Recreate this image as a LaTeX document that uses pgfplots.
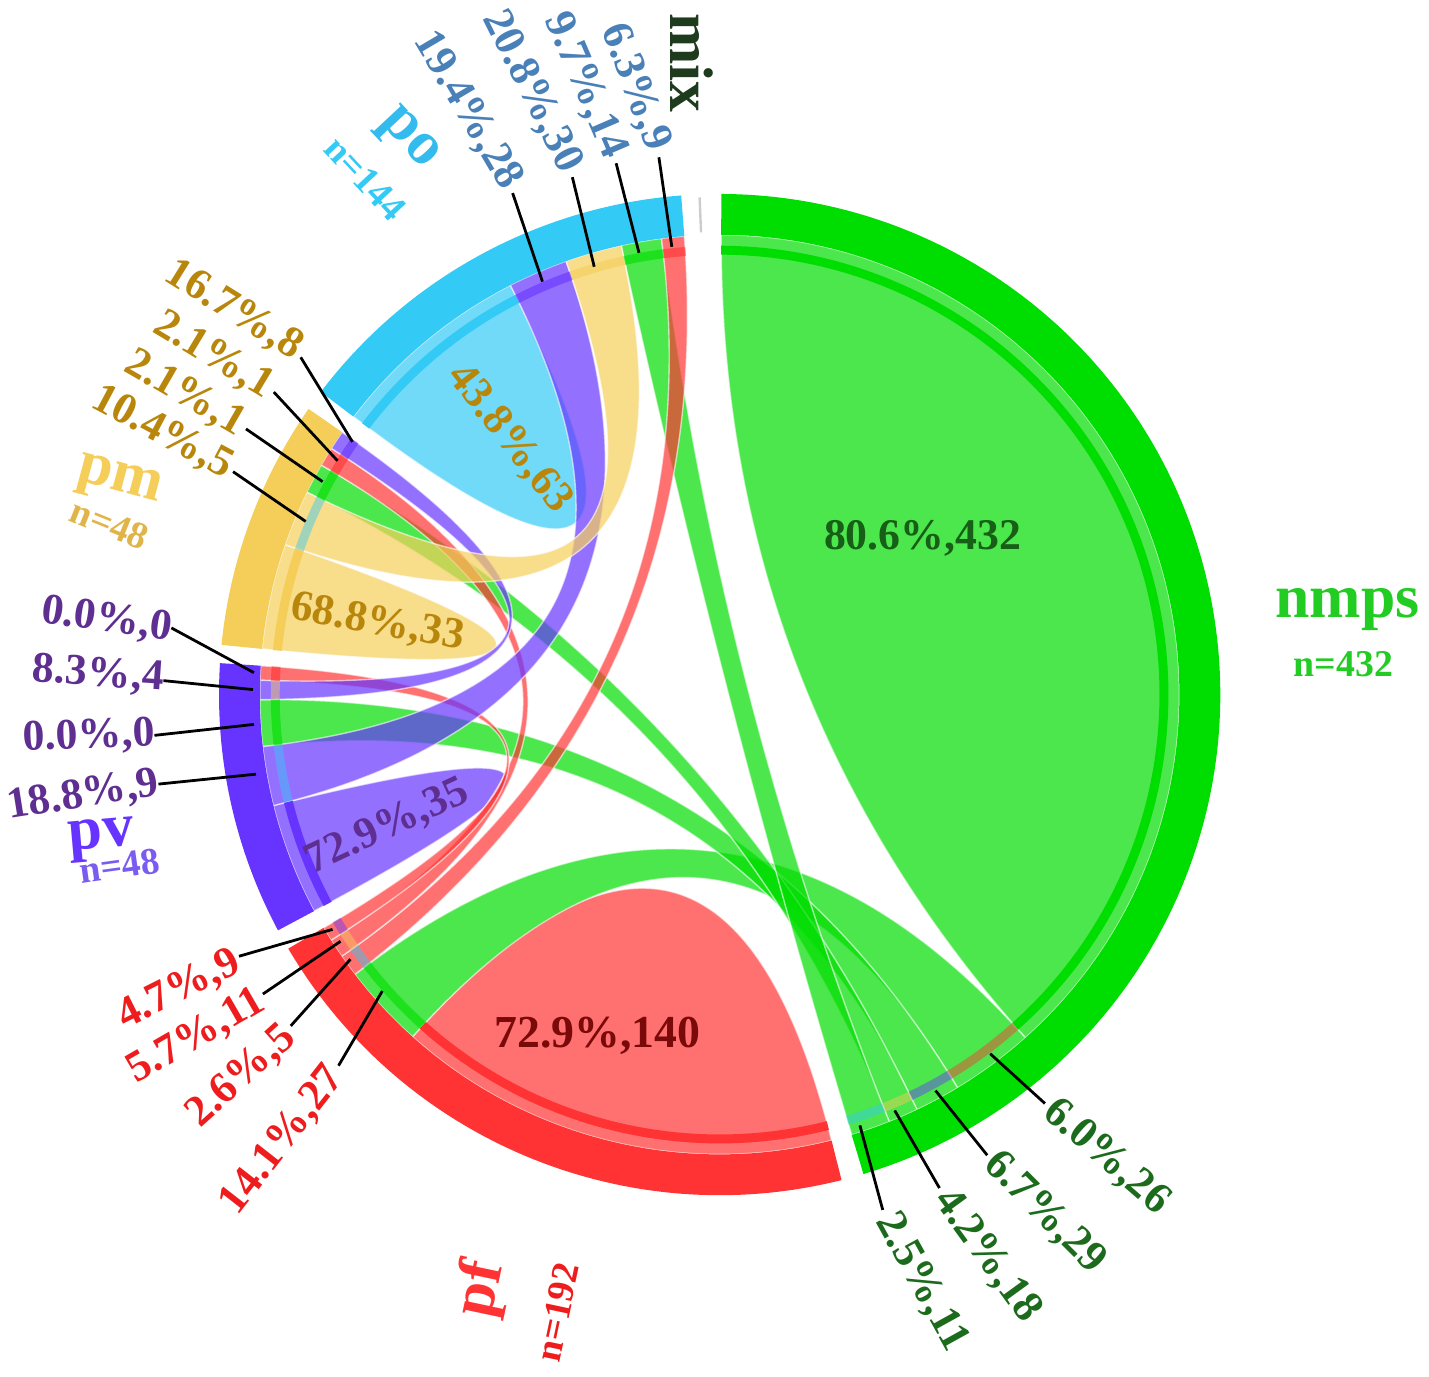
\documentclass[border=0pt]{standalone}
\usepackage{pgfplots}
\pgfplotsset{compat=1.18}
\usepackage{fontspec}
\setmainfont{Liberation Serif}
\newcommand\pxu{0.0087866}
\pgfmathsetmacro\RL{462*\pxu}
\pgfmathsetmacro\RC{462*\pxu/3}
\pgfmathsetmacro\Rbi{462*\pxu}
\pgfmathsetmacro\Rbo{503*\pxu}
\pgfmathsetmacro\Rxi{442*\pxu}
\pgfmathsetmacro\Rxo{451*\pxu}
\definecolor{cnmps}{HTML}{00DD00}
\definecolor{cpf}{HTML}{FF3333}
\definecolor{cpv}{HTML}{6633FF}
\definecolor{cpm}{HTML}{F5CE5A}
\definecolor{cpo}{HTML}{33CAF5}
\definecolor{lnmps}{HTML}{1C6B1C}
\definecolor{lpf}{HTML}{EE1C1C}
\definecolor{lpv}{HTML}{5E2E91}
\definecolor{lpm}{HTML}{B8860B}
\definecolor{lpo}{HTML}{4A80B8}
\definecolor{innmps}{HTML}{175E17}
\definecolor{inpf}{HTML}{7A0A0A}
\definecolor{nmpsname}{HTML}{22CC22}
\definecolor{pvn}{HTML}{7B5CF0}
\definecolor{pmn}{HTML}{E0B448}
\definecolor{poname}{HTML}{33BBEE}
\definecolor{mixc}{HTML}{1E3B1E}
% ribbon between two ends [a1,a2] and [b1,b2]
\newcommand{\rib}[5]{%
 \fill[#1, fill opacity=0.7, draw=white, draw opacity=0.6, line width=0.35pt]
 (axis cs:{\RL*cos(#2)},{\RL*sin(#2)}) arc[start angle=#2, end angle=#3, radius=\RL]
 .. controls (axis cs:{\RC*cos(#3)},{\RC*sin(#3)}) and (axis cs:{\RC*cos(#4)},{\RC*sin(#4)}) ..
 (axis cs:{\RL*cos(#4)},{\RL*sin(#4)}) arc[start angle=#4, end angle=#5, radius=\RL]
 .. controls (axis cs:{\RC*cos(#5)},{\RC*sin(#5)}) and (axis cs:{\RC*cos(#2)},{\RC*sin(#2)}) .. cycle;}
% self link
\newcommand{\petal}[3]{%
 \fill[#1, fill opacity=0.7, draw=white, draw opacity=0.6, line width=0.35pt]
 (axis cs:{\RL*cos(#2)},{\RL*sin(#2)}) arc[start angle=#2, end angle=#3, radius=\RL]
 .. controls (axis cs:{\RC*cos(#3)},{\RC*sin(#3)}) and (axis cs:{\RC*cos(#2)},{\RC*sin(#2)}) .. cycle;}
% annulus sector
\newcommand{\ann}[5]{%
 \fill[#1] (axis cs:{#2*cos(#4)},{#2*sin(#4)}) arc[start angle=#4, end angle=#5, radius=#2]
 -- (axis cs:{#3*cos(#5)},{#3*sin(#5)}) arc[start angle=#5, end angle=#4, radius=#3] -- cycle;}
% text label at image pixel position
\newcommand{\lab}[7]{%
 \node[rotate=#3, anchor=#4, text=#5, inner sep=1pt, font=\bfseries\fontsize{#6}{#6}\selectfont]
 at (axis cs:{(#1-716)*\pxu},{(697-#2)*\pxu}) {#7};}
\newcommand{\ld}[4]{%
 \draw[black, line width=0.7pt] (axis cs:{(#1-716)*\pxu},{(697-#2)*\pxu}) -- (axis cs:{(#3-716)*\pxu},{(697-#4)*\pxu});}
\begin{document}
\begin{tikzpicture}
\begin{axis}[x=1cm, y=1cm, xmin=-6.2912, xmax=6.2648, ymin=-6.0188, ymax=6.1243,
  hide axis, clip=false]
\addplot[draw=none, mark=none, forget plot] coordinates {(-6.2912,-6.0188) (6.2648,6.1243)};
% self links (diagonal counts: nmps 348, pf 140, pv 35, pm 33, po 63)
\petal{cnmps}{89.8}{-48.3}
\petal{cpf}{-75.9}{-131.9}
\petal{cpv}{-151.9}{-166.03}
\petal{cpm}{-185.7}{-199.04}
\petal{cpo}{-217.2}{-242.93}
% links between classes (widths: sum of both directions)
\rib{cnmps}{-48.3}{-58.82}{-131.9}{-142.5}
\rib{cnmps}{-58.82}{-64.57}{-173.5}{-179.36}
\rib{cnmps}{-64.57}{-68.34}{-206.11}{-209.95}
\rib{cnmps}{-68.34}{-73.3}{-257.64}{-262.74}
\rib{cpf}{-142.5}{-145.3}{-262.74}{-265.6}
\rib{cpf}{-145.3}{-147.7}{-209.95}{-212.38}
\rib{cpf}{-147.7}{-149.5}{-181.78}{-183.6}
\rib{cpv}{-166.03}{-173.5}{-242.93}{-250.49}
\rib{cpv}{-179.36}{-181.78}{-212.38}{-214.8}
\rib{cpm}{-199.04}{-206.11}{-250.49}{-257.64}
% end bars
\ann{cnmps}{\Rxi}{\Rxo}{89.8}{-48.3}
\ann{cpf}{\Rxi}{\Rxo}{-75.9}{-131.9}
\ann{cpv}{\Rxi}{\Rxo}{-151.9}{-166.03}
\ann{cpm}{\Rxi}{\Rxo}{-185.7}{-199.04}
\ann{cpo}{\Rxi}{\Rxo}{-217.2}{-242.93}
\ann{cpf, opacity=0.45}{\Rxi}{\Rxo}{-48.3}{-58.82}
\ann{cpv, opacity=0.45}{\Rxi}{\Rxo}{-58.82}{-64.57}
\ann{cpm, opacity=0.45}{\Rxi}{\Rxo}{-64.57}{-68.34}
\ann{cpo, opacity=0.45}{\Rxi}{\Rxo}{-68.34}{-73.3}
\ann{cnmps, opacity=0.6}{\Rxi}{\Rxo}{-131.9}{-142.5}
\ann{cpo, opacity=0.45}{\Rxi}{\Rxo}{-142.5}{-145.3}
\ann{cpm, opacity=0.45}{\Rxi}{\Rxo}{-145.3}{-147.7}
\ann{cpv, opacity=0.45}{\Rxi}{\Rxo}{-147.7}{-149.5}
\ann{cpo, opacity=0.45}{\Rxi}{\Rxo}{-166.03}{-173.5}
\ann{cnmps, opacity=0.6}{\Rxi}{\Rxo}{-173.5}{-179.36}
\ann{cpm, opacity=0.45}{\Rxi}{\Rxo}{-179.36}{-181.78}
\ann{cpf, opacity=0.6}{\Rxi}{\Rxo}{-181.78}{-183.6}
\ann{cpo, opacity=0.45}{\Rxi}{\Rxo}{-199.04}{-206.11}
\ann{cnmps, opacity=0.6}{\Rxi}{\Rxo}{-206.11}{-209.95}
\ann{cpf, opacity=0.6}{\Rxi}{\Rxo}{-209.95}{-212.38}
\ann{cpv, opacity=0.6}{\Rxi}{\Rxo}{-212.38}{-214.8}
\ann{cpv, opacity=0.6}{\Rxi}{\Rxo}{-242.93}{-250.49}
\ann{cpm, opacity=0.6}{\Rxi}{\Rxo}{-250.49}{-257.64}
\ann{cnmps, opacity=0.6}{\Rxi}{\Rxo}{-257.64}{-262.74}
\ann{cpf, opacity=0.6}{\Rxi}{\Rxo}{-262.74}{-265.6}
% outer sector bands
\ann{cnmps}{\Rbi}{\Rbo}{89.8}{-73.3}
\ann{cpf}{\Rbi}{\Rbo}{-75.9}{-149.5}
\ann{cpv}{\Rbi}{\Rbo}{-151.9}{-183.6}
\ann{cpm}{\Rbi}{\Rbo}{-185.7}{-214.8}
\ann{cpo}{\Rbi}{\Rbo}{-217.2}{-265.6}
\draw[black!20, line width=0.6pt] (axis cs:{465*\pxu*cos(92.3)},{465*\pxu*sin(92.3)}) -- (axis cs:{500*\pxu*cos(92.3)},{500*\pxu*sin(92.3)});
% leader lines
\ld{538}{282}{508}{193}\ld{590}{267}{568}{177}\ld{635}{253}{612}{163}\ld{668}{247}{655}{157}
\ld{347}{443}{295}{358}\ld{332}{462}{268}{393}\ld{317}{483}{240}{430}\ld{300}{523}{227}{473}
\ld{248}{675}{165}{630}\ld{247}{692}{157}{683}\ld{248}{727}{148}{738}\ld{250}{777}{152}{787}
\ld{327}{933}{233}{960}\ld{335}{945}{257}{998}\ld{345}{963}{285}{1030}\ld{377}{995}{333}{1070}
\ld{988}{1058}{1043}{1108}\ld{933}{1095}{985}{1160}\ld{892}{1115}{937}{1193}\ld{857}{1130}{880}{1215}
% po labels
\lab{510}{190}{-59.4}{east}{lpo}{11}{19.4\%,28}
\lab{569}{174}{-63.4}{east}{lpo}{11}{20.8\%,30}
\lab{613}{160}{-66.7}{east}{lpo}{11}{9.7\%,14}
\lab{656}{153}{-69.5}{east}{lpo}{11}{6.3\%,9}
% pm labels
\lab{297}{354}{-32}{east}{lpm}{11}{16.7\%,8}
\lab{268}{393}{-31}{east}{lpm}{11}{2.1\%,1}
\lab{240}{430}{-30}{east}{lpm}{11}{2.1\%,1}
\lab{228}{472}{-28}{east}{lpm}{11}{10.4\%,5}
% pv labels
\lab{170}{632}{-8}{east}{lpv}{11}{0.0\%,0}
\lab{162}{682}{-4}{east}{lpv}{11}{8.3\%,4}
\lab{153}{737}{2}{east}{lpv}{11}{0.0\%,0}
\lab{157}{786}{9}{east}{lpv}{11}{18.8\%,9}
% pf labels
\lab{236}{962}{26.6}{east}{lpf}{11}{4.7\%,9}
\lab{260}{1000}{30}{east}{lpf}{11}{5.7\%,11}
\lab{288}{1033}{42}{east}{lpf}{11}{2.6\%,5}
\lab{334}{1072}{52}{east}{lpf}{11}{14.1\%,27}
% nmps labels
\lab{1043}{1108}{-41}{west}{lnmps}{11}{6.0\%,26}
\lab{985}{1160}{-45}{west}{lnmps}{11}{6.7\%,29}
\lab{937}{1195}{-54}{west}{lnmps}{11}{4.2\%,18}
\lab{880}{1217}{-61}{west}{lnmps}{11}{2.5\%,11}
% inner labels
\lab{920}{540}{0}{center}{innmps}{11}{80.6\%,432}
\lab{593}{1040}{0}{center}{inpf}{11.5}{72.9\%,140}
\lab{382}{830}{25}{center}{lpv}{11}{72.9\%,35}
\lab{372}{625}{-10}{center}{lpm}{11}{68.8\%,33}
\lab{505}{440}{-52}{center}{lpm}{11}{43.8\%,63}
% sector names
\lab{1347}{612}{0}{center}{nmpsname}{15.5}{nmps}
\lab{1343}{666}{0}{center}{nmpsname}{9.5}{n=432}
\lab{477}{1295}{78}{center}{cpf}{15.5}{pf}
\lab{553}{1318}{78}{center}{lpf}{9.5}{n=192}
\lab{95}{843}{5}{center}{cpv}{15.5}{pv}
\lab{113}{869}{8}{center}{pvn}{9.5}{n=48}
\lab{112}{484}{-15}{center}{cpm}{15.5}{pm}
\lab{103}{526}{-22}{center}{pmn}{9.5}{n=48}
\lab{402}{140}{-47}{center}{poname}{15.5}{po}
\lab{360}{178}{-47}{center}{cpo}{9.5}{n=144}
\lab{688}{62}{-90}{center}{mixc}{15.5}{mix}
\end{axis}
\end{tikzpicture}
\end{document}
